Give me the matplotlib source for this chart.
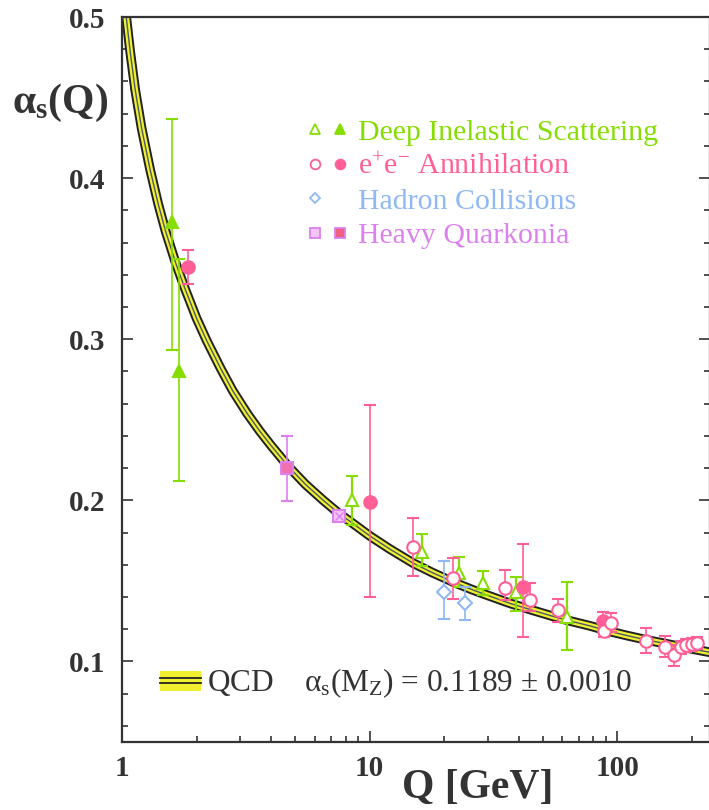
import matplotlib
matplotlib.use("Agg")
import matplotlib.pyplot as plt
import numpy as np
from matplotlib.lines import Line2D
from matplotlib.patches import Rectangle
from matplotlib.legend_handler import HandlerTuple
from matplotlib.ticker import FixedLocator, MultipleLocator, NullFormatter

plt.rcParams['font.family'] = ['Liberation Serif', 'DejaVu Serif']
plt.rcParams['mathtext.fontset'] = 'custom'
plt.rcParams['mathtext.rm'] = 'Liberation Serif'
plt.rcParams['mathtext.it'] = 'Liberation Serif:italic'
plt.rcParams['mathtext.bf'] = 'Liberation Serif:bold'

# QCD running coupling band
curve_q = [1.04, 1.08, 1.13, 1.2, 1.3, 1.4, 1.5, 1.65, 1.8, 2.0, 2.2, 2.5,
           2.8, 3.2, 3.6, 4.0, 4.7, 5.5, 6.5, 7.5, 8.5, 10, 12, 15, 18, 22,
           26, 30, 37, 45, 55, 65, 78, 91.2, 110, 130, 155, 180, 205, 240]
curve_a = [0.500, 0.478, 0.455, 0.431, 0.405, 0.384, 0.367, 0.347, 0.331,
           0.313, 0.299, 0.282, 0.268, 0.254, 0.243, 0.234, 0.221, 0.210,
           0.200, 0.192, 0.186, 0.178, 0.170, 0.161, 0.155, 0.149, 0.1445,
           0.141, 0.136, 0.132, 0.128, 0.125, 0.122, 0.119, 0.116, 0.1135,
           0.1112, 0.1092, 0.1075, 0.1055]

# Deep inelastic scattering
dis_full_q = [1.59, 1.70]
dis_full_a = [0.373, 0.280]
dis_full_hi = [0.437, 0.350]
dis_full_lo = [0.2935, 0.212]
dis_open_q = [8.5, 16.3, 23.0, 28.8, 38.9, 62.9]
dis_open_a = [0.2005, 0.168, 0.155, 0.149, 0.1434, 0.1273]
dis_open_hi = [0.2153, 0.1794, 0.165, 0.1564, 0.1527, 0.1496]
dis_open_lo = [0.185, 0.159, 0.146, 0.141, 0.1316, 0.1068]

# e+e- annihilation
ee_full_q = [1.85, 10.0, 41.8, 88.0]
ee_full_a = [0.345, 0.1992, 0.146, 0.1248]
ee_full_hi = [0.3555, 0.259, 0.1726, 0.1304]
ee_full_lo = [0.3344, 0.140, 0.1149, 0.1190]
ee_open_q = [15.0, 21.8, 35.3, 44.5, 57.6, 88.6, 94.6, 131, 156, 170, 181,
             190, 200, 210]
ee_open_a = [0.1713, 0.152, 0.1453, 0.1384, 0.1322, 0.1186, 0.1236, 0.1124,
             0.1087, 0.1043, 0.1087, 0.1100, 0.1106, 0.1112]
ee_open_hi = [0.189, 0.1645, 0.157, 0.1484, 0.139, 0.1250, 0.1300, 0.121,
              0.1155, 0.1105, 0.1130, 0.1140, 0.1145, 0.1150]
ee_open_lo = [0.1533, 0.139, 0.138, 0.1316, 0.1242, 0.1150, 0.1180, 0.105,
              0.103, 0.0969, 0.1045, 0.1060, 0.1065, 0.1075]

# hadron collisions
had_q = [20.0, 24.3]
had_a = [0.1434, 0.136]
had_hi = [0.1626, 0.1465]
had_lo = [0.1261, 0.126]

# heavy quarkonia
hq_full_q = [4.66]
hq_full_a = [0.2203]
hq_full_hi = [0.2402]
hq_full_lo = [0.1998]
hq_open_q = [7.54]
hq_open_a = [0.190]
hq_open_hi = [0.193]
hq_open_lo = [0.187]

GREEN = '#86dd00'
PINK = '#ff5f96'
BLUE = '#8fb8f5'
PURPLE = '#dc80ee'
DARK = '#333333'


def err(a, lo, hi):
    a = np.asarray(a)
    return [a - np.asarray(lo), np.asarray(hi) - a]


class BandHandler:
    # yellow band with two dark lines, as in the QCD legend key
    def legend_artist(self, legend, orig_handle, fontsize, handlebox):
        x0, y0 = -handlebox.xdescent, -handlebox.ydescent
        w, h = handlebox.width, handlebox.height
        tr = handlebox.get_transform()
        rect = Rectangle((x0, y0), w, h, facecolor='#f0f030', edgecolor='none',
                         transform=tr)
        handlebox.add_artist(rect)
        for f in (0.36, 0.64):
            handlebox.add_artist(Line2D([x0, x0 + w], [y0 + f * h] * 2,
                                        color='#222222', lw=1.3, transform=tr))
        return rect


fig = plt.figure(figsize=(7.09, 8.10), dpi=100)
ax = fig.add_axes([122 / 709, 1 - 742 / 810, (710 - 122) / 709, (742 - 17) / 810])

# band: black edges, yellow fill, grey centre line
ax.plot(curve_q, curve_a, color='#222222', lw=7.0, solid_capstyle='butt', zorder=2)
ax.plot(curve_q, curve_a, color='#f0f030', lw=4.2, solid_capstyle='butt', zorder=2)
ax.plot(curve_q, curve_a, color='#4a5a68', lw=1.0, zorder=2)

eb = dict(capsize=4.5, elinewidth=1.2, capthick=1.2, ms=9, mew=1.5, zorder=4)

ax.errorbar(dis_full_q, dis_full_a, yerr=err(dis_full_a, dis_full_lo, dis_full_hi),
            fmt='^', color=GREEN, mfc=GREEN, **eb)
ax.errorbar(dis_open_q, dis_open_a, yerr=err(dis_open_a, dis_open_lo, dis_open_hi),
            fmt='^', color=GREEN, mfc='white', **dict(eb, elinewidth=1.6, capthick=1.6))
ax.errorbar(ee_full_q, ee_full_a, yerr=err(ee_full_a, ee_full_lo, ee_full_hi),
            fmt='o', color=PINK, mfc=PINK, **eb)
ax.errorbar(ee_open_q, ee_open_a, yerr=err(ee_open_a, ee_open_lo, ee_open_hi),
            fmt='o', color=PINK, mfc='white', **eb)
ax.errorbar(had_q, had_a, yerr=err(had_a, had_lo, had_hi),
            fmt='D', color=BLUE, mfc='white', **dict(eb, ms=7))
ax.errorbar(hq_full_q, hq_full_a, yerr=err(hq_full_a, hq_full_lo, hq_full_hi),
            fmt='s', color=PURPLE, mfc='#f070b0', **eb)
ax.errorbar(hq_open_q, hq_open_a, yerr=err(hq_open_a, hq_open_lo, hq_open_hi),
            fmt='s', color=PURPLE, mfc='#f2c4f8', **eb)
ax.plot(hq_open_q, hq_open_a, 'x', color=PURPLE, ms=6, mew=1.0, zorder=5)

ax.set_xscale('log')
ax.set_xlim(1, 237)
ax.set_ylim(0.05, 0.5)

ax.xaxis.set_major_locator(FixedLocator([1, 10, 100]))
ax.xaxis.set_minor_locator(FixedLocator([2, 3, 4, 5, 6, 7, 8, 9,
                                         20, 30, 40, 50, 60, 70, 80, 90, 200]))
ax.xaxis.set_minor_formatter(NullFormatter())
ax.set_xticklabels(['1', '10', '100'])
ax.yaxis.set_major_locator(FixedLocator([0.1, 0.2, 0.3, 0.4, 0.5]))
ax.yaxis.set_minor_locator(MultipleLocator(0.02))
ax.set_yticklabels(['0.1', '0.2', '0.3', '0.4', '0.5'])

ax.tick_params(which='both', direction='in', color=DARK, top=False, right=True)
ax.tick_params(which='major', length=8, width=1.2, labelsize=21, labelcolor=DARK)
ax.tick_params(axis='y', which='major', pad=12)
ax.tick_params(axis='x', which='major', pad=9)
ax.tick_params(which='minor', length=4, width=1.2)
for lab in ax.get_xticklabels() + ax.get_yticklabels():
    lab.set_fontweight('bold')
for s in ax.spines.values():
    s.set_color(DARK)
    s.set_linewidth(1.6)

fig.text(478 / 709, 1 - 788 / 810, 'Q [GeV]', fontsize=30, fontweight='bold',
         color=DARK, ha='center', va='center')
ax.set_ylabel(r'α$_\mathregular{s}$(Q)', fontsize=30, fontweight='bold',
              color=DARK, rotation=0, va='center', ha='center')
ax.yaxis.set_label_coords(-0.105, 0.882)

# upper legend
h_dis = (Line2D([], [], marker='^', ls='', color=GREEN, mfc='white', ms=7, mew=1.3),
         Line2D([], [], marker='^', ls='', color=GREEN, mfc=GREEN, ms=7, mew=1.3))
h_ee = (Line2D([], [], marker='o', ls='', color=PINK, mfc='white', ms=7, mew=1.3),
        Line2D([], [], marker='o', ls='', color=PINK, mfc=PINK, ms=7, mew=1.3))
h_had = (Line2D([], [], marker='D', ls='', color=BLUE, mfc='white', ms=5.5, mew=1.3),
         Line2D([], [], ls=''))
h_hq = (Line2D([], [], marker='s', ls='', color=PURPLE, mfc='#f2c4f8', ms=7, mew=1.3),
        Line2D([], [], marker='s', ls='', color=PURPLE, mfc='#f06080', ms=7, mew=1.3))
leg = ax.legend([h_dis, h_ee, h_had, h_hq],
                ['Deep Inelastic Scattering', 'e$^{+}$e$^{-}$ Annihilation',
                 'Hadron Collisions', 'Heavy Quarkonia'],
                handler_map={tuple: HandlerTuple(ndivide=None, pad=0.3)},
                loc='upper left', bbox_to_anchor=(0.295, 0.876), frameon=False,
                fontsize=21.5, labelcolor=[GREEN, PINK, BLUE, PURPLE],
                handlelength=1.35, handletextpad=0.35, labelspacing=0.25,
                borderaxespad=0)
ax.add_artist(leg)

# lower legend for the QCD band
ax.legend([Rectangle((0, 0), 1, 1)],
          [r'QCD    α$_\mathregular{s}$(M$_\mathregular{Z}$) = 0.1189 ± 0.0010'],
          handler_map={Rectangle: BandHandler()},
          loc='lower left', bbox_to_anchor=(0.043, 0.040), frameon=False,
          fontsize=22.5, labelcolor=DARK, handlelength=1.31, handleheight=0.6,
          handletextpad=0.2, borderaxespad=0)

fig.savefig('out.png', dpi=100)
